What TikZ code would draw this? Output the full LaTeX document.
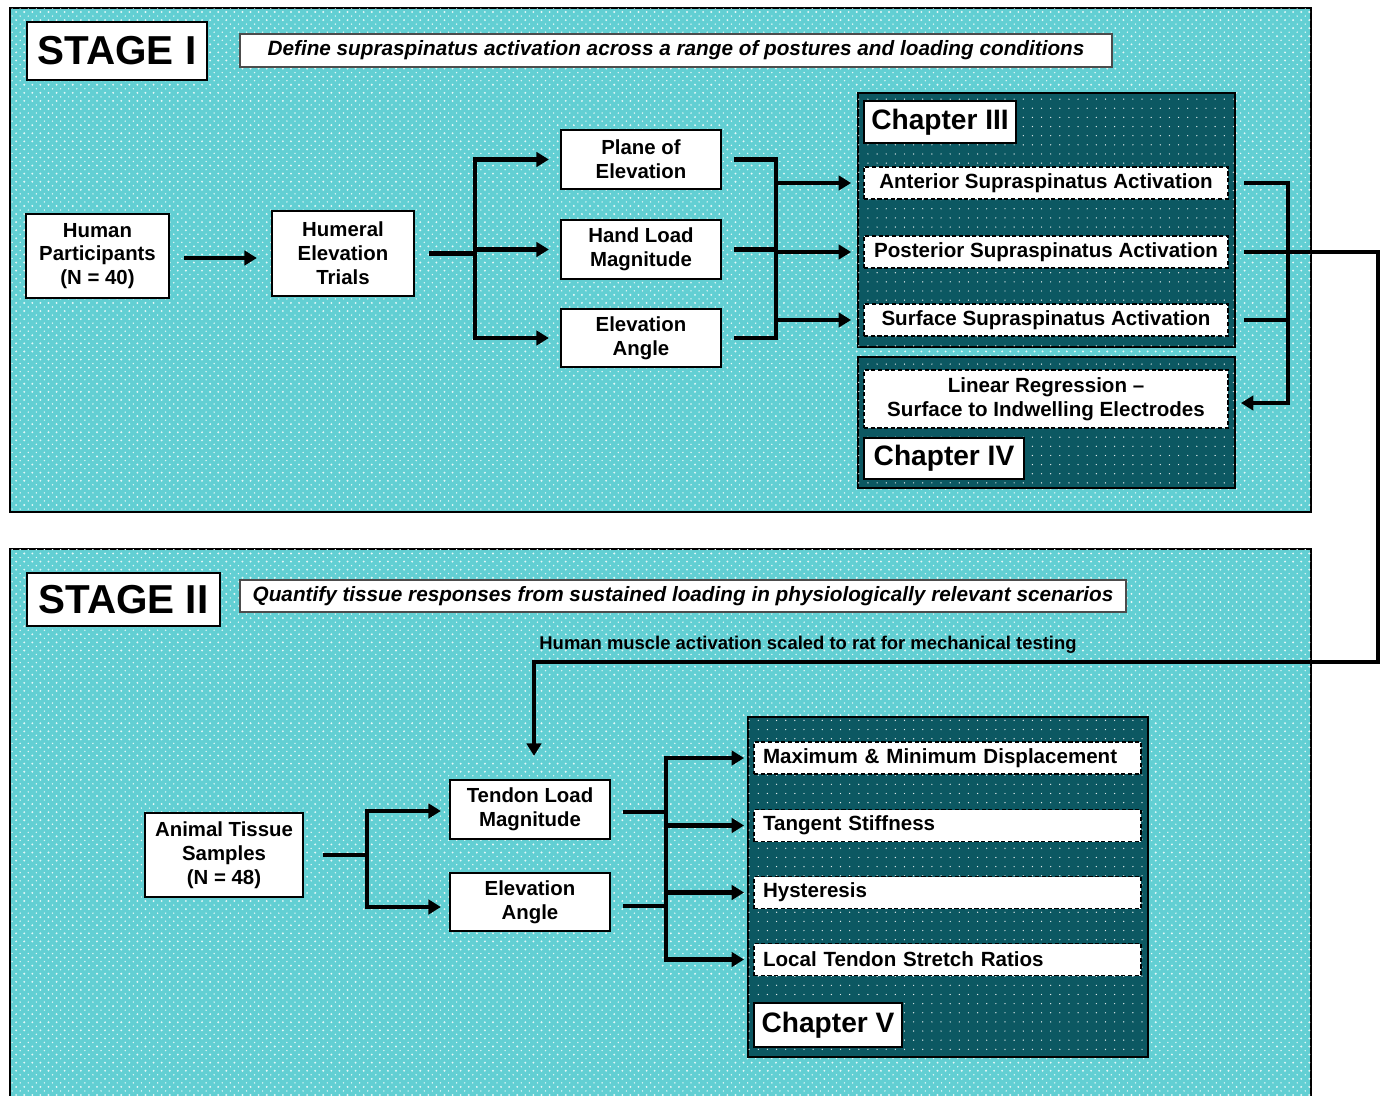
\documentclass[tikz,border=0pt]{standalone}
\usepackage{fontspec}
\setmainfont{Liberation Sans}
\usetikzlibrary{arrows.meta,positioning,calc,patterns}
\definecolor{stagecyan}{RGB}{98,207,211}
\definecolor{chapterteal}{RGB}{12,88,98}
\pgfdeclarepatternformonly{panel dots}{\pgfqpoint{-1pt}{-1pt}}{\pgfqpoint{3.5pt}{3.5pt}}{\pgfqpoint{4.6pt}{4.6pt}}{%
  \pgfpathcircle{\pgfpointorigin}{0.6pt}
  \pgfpathcircle{\pgfqpoint{2.3pt}{2.3pt}}{0.45pt}
  \pgfusepath{fill}}
\pgfdeclarepatternformonly{chapter dots}{\pgfqpoint{-1pt}{-1pt}}{\pgfqpoint{1pt}{1pt}}{\pgfqpoint{5.2pt}{5.2pt}}{%
  \pgfpathcircle{\pgfpointorigin}{0.4pt}
  \pgfusepath{fill}}
\tikzset{
  stagepanel/.style={draw=black,line width=1.5pt,fill=stagecyan,
    postaction={pattern=panel dots,pattern color=white!85!stagecyan}},
  chapterpanel/.style={draw=black,line width=1.6pt,fill=chapterteal,
    postaction={pattern=chapter dots,pattern color=white!85!chapterteal}},
  flowbox/.style={draw=black,line width=1.3pt,fill=white,align=center,inner sep=0pt,
    font=\fontsize{11.6}{13.6}\selectfont\bfseries},
  resultbox/.style={draw=black,line width=1.1pt,dash pattern=on 2.4pt off 1.4pt,fill=white,
    inner sep=0pt,font=\fontsize{11.7}{13.6}\selectfont\bfseries},
  chapterlabel/.style={draw=black,line width=1.3pt,fill=white,inner sep=0pt,
    font=\fontsize{16}{19}\selectfont\bfseries},
  stagelabel/.style={draw=black,line width=1.6pt,fill=white,inner sep=0pt,
    font=\fontsize{23}{26}\selectfont\bfseries},
  aimbox/.style={draw=black!70,line width=0.8pt,fill=white,inner sep=0pt,
    font=\fontsize{11.8}{13}\selectfont\bfseries\itshape},
  flowline/.style={line width=2.3pt},
  flowarrow/.style={flowline,-{Triangle[length=2.5mm,width=2.9mm]}}
}
\begin{document}
\begin{tikzpicture}[x=0.02cm,y=-0.02cm]
  \useasboundingbox (0,0) rectangle (1385,1095);
  % background panels
  \node[stagepanel,minimum width=26.02cm,minimum height=10.08cm] (stageone) at (660.5,260) {};
  \node[stagepanel,minimum width=26.02cm,minimum height=11.32cm] (stagetwo) at (660.5,832) {};

  % stage I
  \node[stagelabel,minimum width=3.6cm,minimum height=1.16cm] (stageonelabel) at (117,51) {STAGE I};
  \node[aimbox,minimum width=17.44cm,minimum height=0.66cm] (stageoneaim) at (676,50.5)
    {Define supraspinatus activation across a range of postures and loading conditions};
  \node[flowbox,minimum width=2.86cm,minimum height=1.68cm] (human) at (97.5,256)
    {Human\\Participants\\(N = 40)};
  \node[flowbox,minimum width=2.84cm,minimum height=1.7cm] (trials) at (343,253.5)
    {Humeral\\Elevation\\Trials};
  \node[flowbox,minimum width=3.2cm,minimum height=1.18cm] (plane) at (641,159.5)
    {Plane of\\Elevation};
  \node[flowbox,minimum width=3.2cm,minimum height=1.18cm] (handload) at (641,249.5)
    {Hand Load\\Magnitude};
  \node[flowbox,minimum width=3.2cm,minimum height=1.16cm] (elevangle) at (641,338)
    {Elevation\\Angle};

  \node[chapterpanel,minimum width=7.54cm,minimum height=5.08cm] (chapthree) at (1046.5,220) {};
  \node[chapterlabel,minimum width=3.04cm,minimum height=0.84cm] (chapthreelabel) at (940,122) {Chapter III};
  \node[resultbox,minimum width=7.28cm,minimum height=0.64cm] (anterior) at (1046,183)
    {Anterior Supraspinatus Activation};
  \node[resultbox,minimum width=7.28cm,minimum height=0.64cm] (posterior) at (1046,252)
    {Posterior Supraspinatus Activation};
  \node[resultbox,minimum width=7.28cm,minimum height=0.64cm] (surface) at (1046,320)
    {Surface Supraspinatus Activation};

  \node[chapterpanel,minimum width=7.54cm,minimum height=2.62cm] (chapfour) at (1046.5,422.5) {};
  \node[resultbox,minimum width=7.28cm,minimum height=1.16cm,align=center] (regression) at (1046,399)
    {Linear Regression --\\Surface to Indwelling Electrodes};
  \node[chapterlabel,minimum width=3.2cm,minimum height=0.82cm] (chapfourlabel) at (944,458.5) {Chapter IV};

  % stage I connectors
  \coordinate (splitone) at (475,253.5);
  \coordinate (mergeone) at (776,0);
  \coordinate (mergetwo) at (1288,0);
  \coordinate (regjoin) at ([yshift=-0.08cm]regression.east -| mergetwo);
  \draw[flowarrow,shorten <=0.28cm,shorten >=0.28cm] ([yshift=-0.04cm]human.east) -- ([yshift=-0.04cm]human.east -| trials.west);
  \draw[flowline] ([xshift=0.28cm]trials.east) -- (splitone);
  \foreach \target in {plane,handload,elevangle}
    \draw[flowarrow,shorten >=0.22cm] (splitone) |- (\target.west);
  \foreach \source in {plane,handload,elevangle}
    \draw[flowline] ([xshift=0.24cm]\source.east) -- (\source.east -| mergeone);
  \draw[flowline] ([yshift=1.15pt]plane.east -| mergeone) -- ([yshift=-1.15pt]elevangle.east -| mergeone);
  \foreach \target in {anterior,posterior,surface}
    \draw[flowarrow,shorten >=0.24cm] (\target.west -| mergeone) -- (\target.west);
  \draw[flowline] ([xshift=0.3cm]anterior.east) -- (anterior.east -| mergetwo) -- ([yshift=-1.15pt]regjoin);
  \draw[flowline] ([xshift=0.3cm]surface.east) -- (surface.east -| mergetwo);
  \draw[flowarrow,shorten >=0.24cm] (regjoin) -- ([yshift=-0.08cm]regression.east);

  % stage II
  \node[stagelabel,minimum width=3.86cm,minimum height=1.06cm] (stagetwolabel) at (123.5,599.5) {STAGE II};
  \node[aimbox,minimum width=17.72cm,minimum height=0.64cm] (stagetwoaim) at (683,596)
    {Quantify tissue responses from sustained loading in physiologically relevant scenarios};
  \node[font=\fontsize{10.5}{12}\selectfont\bfseries,inner sep=0pt] (scalenote) at (808,645)
    {Human muscle activation scaled to rat for mechanical testing};
  \node[flowbox,minimum width=3.16cm,minimum height=1.68cm] (animal) at (224,855)
    {Animal Tissue\\Samples\\(N = 48)};
  \node[flowbox,minimum width=3.2cm,minimum height=1.18cm] (tendon) at (530,809.5)
    {Tendon Load\\Magnitude};
  \node[flowbox,minimum width=3.2cm,minimum height=1.16cm] (elevangletwo) at (530,902)
    {Elevation\\Angle};

  \node[chapterpanel,minimum width=8cm,minimum height=6.8cm] (chapfive) at (948,887) {};
  \foreach \name/\yy/\words in {maxmin/758/Maximum \& Minimum Displacement,
      stiffness/825.5/Tangent Stiffness,hysteresis/892.5/Hysteresis,
      stretch/959.5/Local Tendon Stretch Ratios}
    \node[resultbox,text width=7.38cm,inner xsep=0.18cm,minimum height=0.64cm,align=left]
      (\name) at (947.5,\yy) {\words};
  \node[chapterlabel,minimum width=2.96cm,minimum height=0.88cm] (chapfivelabel) at (828,1025) {Chapter V};

  % stage II connectors
  \coordinate (bendright) at (1378,662);
  \draw[flowarrow,shorten >=0.46cm] ([xshift=0.3cm]posterior.east) -| (bendright) -| ([xshift=0.08cm]tendon.north);
  \coordinate (splittwo) at (367,855);
  \coordinate (mergethree) at (666,0);
  \draw[flowline] ([xshift=0.38cm]animal.east) -- (splittwo);
  \draw[flowarrow,shorten >=0.16cm] (splittwo) |- ([yshift=-0.03cm]tendon.west);
  \draw[flowarrow,shorten >=0.16cm] (splittwo) |- ([yshift=-0.1cm]elevangletwo.west);
  \draw[flowline] ([xshift=0.24cm,yshift=-0.05cm]tendon.east) -- ([yshift=-0.05cm]tendon.east -| mergethree);
  \draw[flowline] ([xshift=0.24cm,yshift=-0.08cm]elevangletwo.east) -- ([yshift=-0.08cm]elevangletwo.east -| mergethree);
  \draw[flowline] ([yshift=1.15pt]maxmin.west -| mergethree) -- ([yshift=-1.15pt]stretch.west -| mergethree);
  \foreach \target in {maxmin,stiffness,hysteresis,stretch}
    \draw[flowarrow,shorten >=0.18cm] (\target.west -| mergethree) -- (\target.west);
\end{tikzpicture}
\end{document}
